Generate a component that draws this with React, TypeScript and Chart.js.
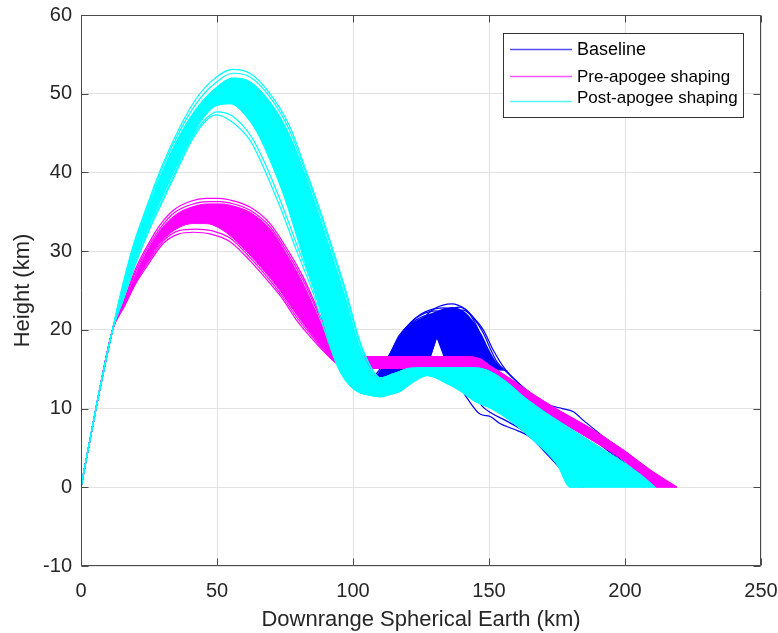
import React, { useEffect, useRef } from "react";
import { Chart, registerables } from "chart.js";

Chart.register(...registerables);

type P = [number, number];

// ---------- axes ----------
const X_TICKS = [0, 50, 100, 150, 200, 250];
const Y_TICKS = [-10, 0, 10, 20, 30, 40, 50, 60];
const SERIES = ["Baseline", "Pre-apogee shaping", "Post-apogee shaping"];

// ---------- shared launch segment (downrange km, height km) ----------
const ASCENT: P[] = [[0, 0], [5.5, 10], [11.6, 20]];

// ---------- Post-apogee shaping (cyan) ----------
const POST_UPPER_TAIL: P[] = [[110, 13.9], [114.8, 14.4], [121, 15.1], [130, 15.2], [140, 15.2], [146.7, 15.1], [152, 14.4], [157.7, 13], [162.6, 11.5], [171, 9.4], [180, 7.4], [190, 5.2], [200, 3], [206, 1.5], [211, 0]];
const POST_LOWER_TAIL: P[] = [[92.5, 17], [95.5, 14.6], [99, 12.9], [102.6, 12], [106.3, 11.7], [110, 11.5], [113.6, 11.8], [117.3, 12.2], [120.5, 13], [124, 13.8], [127.1, 14.2], [130, 14], [134, 13.3], [139.3, 12.3], [145, 10.9], [150.4, 10.1], [157.7, 8.5], [166.3, 6], [174.9, 3], [179.8, 0]];
const POST_BAND_TOP: P[] = [...ASCENT, [14.2, 23.8], [19.3, 30.4], [24.5, 35.4], [30.5, 40.6], [37, 45.2], [43, 48.4], [49, 50.6], [56, 52], [62.3, 51.5], [69.2, 49.1], [76.2, 45.1], [82.5, 39.6], [87.4, 34.7], [92.3, 29.5], [97.2, 24.1], [101.5, 18.8], [104.8, 16], [107.8, 14.3], ...POST_UPPER_TAIL];
const POST_BAND_BOTTOM: P[] = [...ASCENT, [15.2, 23.8], [20, 28.9], [25, 33.2], [30, 37], [35, 40.7], [40, 44.1], [45, 46.9], [50, 48.5], [55, 48.7], [60, 47.4], [65, 44.9], [70, 41.1], [75, 36.6], [80, 31.1], [85, 25.7], [89.5, 20.7], ...POST_LOWER_TAIL, [211, 0]];
const POST_RUN_1: P[] = [...ASCENT, [14, 23.8], [19, 30.5], [24.1, 35.6], [30, 41], [36.4, 45.8], [42, 49.2], [48, 51.6], [55.8, 53.1], [62.1, 52.6], [69.5, 50], [76.8, 45.8], [83, 40], [87.9, 35.2], [92.8, 30], [97.7, 24.6], [102, 19.1], [105, 16.4], [108, 14.5], ...POST_UPPER_TAIL];
const POST_RUN_2: P[] = [...ASCENT, [14.1, 23.8], [19.1, 30.4], [24.3, 35.5], [30.2, 40.8], [36.7, 45.5], [42.5, 48.8], [48.5, 51.1], [56, 52.6], [62.3, 52.1], [69.4, 49.6], [76.5, 45.5], [82.8, 39.8], [87.7, 35], [92.6, 29.8], [97.5, 24.4], [101.8, 19], [105, 16.2], [108, 14.4], ...POST_UPPER_TAIL];
const POST_RUN_3: P[] = [...ASCENT, [15.5, 23.8], [20, 28.3], [25, 32.6], [30, 36.3], [35, 40], [40, 43.6], [45, 46.2], [49.5, 47.3], [54.8, 46.6], [62.1, 44.1], [67, 40.7], [73.2, 35.6], [79.3, 30], [85.4, 24.6], [89.1, 20.4], ...POST_LOWER_TAIL];
const POST_RUN_4: P[] = [...ASCENT, [15.4, 23.8], [20, 28.5], [25, 32.9], [30, 36.6], [35, 40.3], [40, 43.9], [45, 46.5], [50, 47.7], [55.5, 47.2], [62.5, 44.6], [67.6, 41.2], [73.8, 36], [79.8, 30.4], [85.8, 25], [89.5, 20.8], ...POST_LOWER_TAIL];

// ---------- Pre-apogee shaping (magenta) ----------
const PRE_UPPER_TAIL: P[] = [[110, 16.6], [125, 16.6], [140, 16.6], [146.7, 16.3], [150.4, 15.4], [157.7, 13.8], [162.6, 12.6], [168.8, 11.2], [174.9, 9.9], [187.1, 7.5], [199.4, 4.7], [209.2, 2.2], [219, 0]];
const PRE_LOWER_TAIL: P[] = [[95, 15.5], [100, 15.1], [120, 15.1], [140, 15.1], [150, 14.6], [158.9, 12], [166, 10.2], [174.9, 8.6], [187, 6.2], [199, 3.6], [206, 1.6], [212, 0]];
const PRE_BAND_TOP: P[] = [...ASCENT, [16.1, 23.6], [20.4, 27.3], [24.5, 30.1], [29.5, 32.8], [34.7, 34.6], [40.7, 35.6], [46.7, 36], [51.3, 36], [55.2, 35.8], [62.3, 34.9], [69.5, 32.8], [76.5, 29.1], [81.3, 26.1], [85.6, 22.9], [89.6, 19.8], [93.1, 17.6], [97, 16.7], [101, 16.6], ...PRE_UPPER_TAIL];
const PRE_BAND_BOTTOM: P[] = [...ASCENT, [16.3, 23.4], [20, 25.9], [24.1, 28.5], [30, 31.4], [36, 33], [41, 33.5], [46, 33.5], [51, 32.9], [56, 31.6], [62.1, 29.5], [69.5, 26.6], [74, 24.6], [79.3, 21.9], [85.4, 19.2], [90.3, 17.1], ...PRE_LOWER_TAIL, [219, 0]];
const PRE_RUN_1: P[] = [...ASCENT, [15.9, 23.8], [20, 27.7], [24.1, 30.5], [29, 33.3], [34, 35.2], [40, 36.3], [46, 36.7], [51, 36.7], [54.8, 36.5], [62.1, 35.6], [69.5, 33.5], [76.8, 29.7], [81.7, 26.7], [86, 23.4], [90, 20.2], [93.5, 17.8], [97, 16.8], [101, 16.6], ...PRE_UPPER_TAIL];
const PRE_RUN_2: P[] = [...ASCENT, [16, 23.7], [20.2, 27.5], [24.3, 30.3], [29.3, 33], [34.4, 34.9], [40.4, 35.9], [46.4, 36.3], [51.2, 36.3], [55, 36.1], [62.2, 35.2], [69.5, 33.1], [76.6, 29.4], [81.5, 26.4], [85.8, 23.2], [89.8, 20], [93.3, 17.7], [97, 16.7], [101, 16.6], ...PRE_UPPER_TAIL];
const PRE_RUN_3: P[] = [...ASCENT, [16.1, 23.2], [20, 26], [24.1, 28.3], [30.3, 31.3], [36, 32.6], [42, 32.8], [48, 32.6], [55, 31.6], [62.1, 29.2], [69.5, 26.3], [74, 24.3], [79.3, 21.6], [85.4, 19], [90.3, 17], ...PRE_LOWER_TAIL];
const PRE_RUN_4: P[] = [...ASCENT, [16, 23], [20, 25.8], [24.1, 28], [30.3, 31], [36, 32.2], [41.3, 32.4], [47.4, 32.2], [54.8, 31.2], [62.1, 28.8], [69.5, 25.9], [74, 24], [79.3, 21.2], [85.4, 18.7], [90.3, 16.9], ...PRE_LOWER_TAIL];

// ---------- Baseline (blue) ----------
const BASE_ASCENT: P[] = [...ASCENT, [14.6, 23.8], [19.7, 29.8], [24.8, 34.5], [30.3, 38.9], [36, 43], [42, 46.6], [48, 49.1], [55, 50.3], [61, 49.6], [67, 46.6], [73, 41.7], [79, 35.3], [85, 28.8], [90, 22.6], [94.5, 17.8], [98.5, 14.5], [102.6, 13.1]];
const BASE_BUMP_TOP: P[] = [[106, 13.6], [109, 14.4], [111.5, 15.6], [114, 17.2], [117.5, 19.3], [121, 20.6], [124.5, 21.4], [128, 22], [131, 22.4], [134, 22.8], [136.5, 22.9], [139, 22.7], [142, 22], [145, 20.7], [147.5, 19.3], [150, 17.5], [152.5, 16], [155, 15.1], [157, 14.8]];
const BASE_BUMP_FLOOR: P[] = [[106, 13.6], [127, 15], [128.5, 16.4], [130.8, 18.9], [133.5, 16.4], [135, 15], [157, 14.8]];
const BASE_RUN_1: P[] = [...BASE_ASCENT, [106, 13.6], [109, 14.6], [111.5, 15.9], [113.6, 17], [117, 19.3], [120.5, 20.6], [124, 21], [127, 20.6], [129, 19.9], [130.8, 19.1], [132.3, 17.9], [133.8, 16.6], [135.5, 15.2], [138, 13.5], [142, 11.3], [146.7, 9.3], [150.4, 9], [154, 8.1], [159, 7.4], [165, 6.4], [171, 4.3], [176, 2.4], [181, 0]];
const BASE_RUN_2: P[] = [...BASE_ASCENT, [106, 13.6], [109, 14.2], [112, 15.6], [115, 17.6], [118.5, 19.8], [123.4, 21.3], [128.3, 21.9], [132.5, 21.4], [136, 19.6], [139, 17], [141.5, 14.6], [144, 12.3], [147.5, 10.3], [151, 9.4], [156, 8.5], [162, 7.3], [168, 5.6], [174, 3.5], [180, 1.3], [183, 0]];
const BASE_RUN_3: P[] = [...BASE_ASCENT, [106, 13.5], [110, 14.3], [113.5, 16.2], [117, 18.6], [121, 20.8], [125, 22], [129, 22.6], [133, 22.8], [137.5, 22.2], [141.5, 20.4], [144.5, 17.8], [147, 15], [149.5, 12.3], [152.5, 10.2], [157, 8.8], [163, 7.5], [169, 5.8], [175, 3.6], [181, 1.4], [185, 0]];
const BASE_RUN_4: P[] = [...BASE_ASCENT, [106, 13.5], [110, 14], [114, 15.3], [118, 17.3], [122, 19.6], [126, 21.5], [130, 22.7], [136.3, 23.3], [141, 22.7], [145, 21.3], [147.9, 20], [151.6, 17.4], [155.3, 15.3], [158, 14.2], [163, 12.5], [168, 11.2], [172.4, 10.4], [177, 10], [181, 9.6], [184.7, 8.5], [190, 7], [197, 5], [204, 2.6], [209, 0]];
const BASE_RUN_5: P[] = [...BASE_ASCENT, [106, 13.4], [112, 14.2], [118, 14.9], [122, 15.2], [126, 15.6], [128.3, 16.6], [130.8, 19.1], [133, 21.1], [136, 22.5], [139, 22.9], [142, 22.4], [145, 20.8], [148, 18.3], [151, 15.9], [154, 14.5], [160, 12.9], [166, 11.4], [172, 9.8], [180, 8], [188, 6.1], [196, 4], [203, 1.7], [207, 0]];
const BASE_RUN_6: P[] = [...BASE_ASCENT, [106, 13.4], [112, 14.1], [117, 15], [121, 16.4], [125, 18.5], [129, 20.5], [133, 21.8], [137, 22.4], [140.5, 22.5], [144, 21.6], [147.9, 19.6], [150.5, 17.6], [153, 15.9], [156, 14.8], [161, 13.2], [167, 11.5], [173, 9.8], [180, 8.2], [187, 6.5], [195, 4.5], [203, 2.2], [211, 0]];
const BASE_RUN_7: P[] = [...BASE_ASCENT, [106, 13.6], [109.5, 14.5], [112.5, 16.2], [116, 18.5], [120, 20.5], [125, 21.9], [131, 22.4], [135.5, 21.8], [139, 20], [142, 17.3], [144.5, 14.6], [147, 12.3], [150, 10.6], [154, 9.5], [160, 8], [166, 6.5], [172, 4.6], [178, 2.4], [184, 0]];

// ---------- styles ----------
const COLORS = ["#0000ff", "#ff00ff", "#00ffff"];
const LEGEND_COLORS = ["#4f4ff0", "#ff55ff", "#55f5f5"];
const FONT = '"Liberation Sans", Arial, Helvetica, sans-serif';
const TEXT = "#262626";

function ds(points: P[], color: string, order: number, extra: Record<string, unknown> = {}) {
  return {
    data: points.map(([x, y]) => ({ x, y })),
    borderColor: color,
    backgroundColor: color,
    borderWidth: 1.2,
    pointRadius: 0,
    fill: false,
    cubicInterpolationMode: "monotone",
    order,
    ...extra,
  };
}

const framePlugin = {
  id: "matlabFrame",
  afterDatasetsDraw(chart: any) {
    const { ctx, chartArea: a } = chart;
    const xs = chart.scales.x;
    const ys = chart.scales.y;
    const L = Math.round(a.left) + 0.5;
    const R = Math.round(a.right) - 0.5;
    const T = Math.round(a.top) + 0.5;
    const B = Math.round(a.bottom) - 0.5;
    const len = 7;
    ctx.save();
    ctx.strokeStyle = "#4a4a4a";
    ctx.lineWidth = 1;
    ctx.beginPath();
    ctx.rect(L, T, R - L, B - T);
    X_TICKS.forEach((v) => {
      const px = Math.round(xs.getPixelForValue(v)) + 0.5;
      ctx.moveTo(px, B);
      ctx.lineTo(px, B - len);
      ctx.moveTo(px, T);
      ctx.lineTo(px, T + len);
    });
    Y_TICKS.forEach((v) => {
      const py = Math.round(ys.getPixelForValue(v)) + 0.5;
      ctx.moveTo(L, py);
      ctx.lineTo(L + len, py);
      ctx.moveTo(R, py);
      ctx.lineTo(R - len, py);
    });
    ctx.stroke();
    ctx.restore();
  },
};

const legendPlugin = {
  id: "matlabLegend",
  afterDraw(chart: any) {
    const { ctx, chartArea: a } = chart;
    const bx = Math.round(a.right) - 258;
    const by = Math.round(a.top) + 18;
    const bw = 240;
    const bh = 84;
    ctx.save();
    ctx.fillStyle = "#ffffff";
    ctx.fillRect(bx, by, bw, bh);
    ctx.strokeStyle = "#333333";
    ctx.lineWidth = 1;
    ctx.strokeRect(bx + 0.5, by + 0.5, bw, bh);
    const lineY = [16.5, 43.5, 68.5];
    const textY = [17.5, 44, 65.5];
    const sizes = [18, 17, 17];
    SERIES.forEach((name, i) => {
      ctx.strokeStyle = LEGEND_COLORS[i];
      ctx.lineWidth = 1.5;
      ctx.beginPath();
      ctx.moveTo(bx + 7, by + lineY[i]);
      ctx.lineTo(bx + 69, by + lineY[i]);
      ctx.stroke();
      ctx.fillStyle = "#000000";
      ctx.font = `${sizes[i]}px ${FONT}`;
      ctx.textBaseline = "middle";
      ctx.textAlign = "left";
      ctx.fillText(name, bx + 74, by + textY[i]);
    });
    ctx.restore();
  },
};

export default function App() {
  const canvasRef = useRef<HTMLCanvasElement | null>(null);

  useEffect(() => {
    document.body.style.margin = "0";
    const canvas = canvasRef.current;
    if (!canvas) return;

    const datasets = [
      // Post-apogee shaping (on top)
      ds(POST_BAND_TOP, COLORS[2], 0.5, { fill: "+1", borderWidth: 1 }),
      ds(POST_BAND_BOTTOM, COLORS[2], 0.5, { borderWidth: 1 }),
      ds(POST_RUN_1, COLORS[2], 0),
      ds(POST_RUN_2, COLORS[2], 0),
      ds(POST_RUN_3, COLORS[2], 0),
      ds(POST_RUN_4, COLORS[2], 0),
      // Pre-apogee shaping
      ds(PRE_BAND_TOP, COLORS[1], 1.5, { fill: "+1", borderWidth: 1 }),
      ds(PRE_BAND_BOTTOM, COLORS[1], 1.5, { borderWidth: 1 }),
      ds(PRE_RUN_1, COLORS[1], 1),
      ds(PRE_RUN_2, COLORS[1], 1),
      ds(PRE_RUN_3, COLORS[1], 1),
      ds(PRE_RUN_4, COLORS[1], 1),
      // Baseline (bottom)
      ds(BASE_BUMP_TOP, COLORS[0], 2.5, { fill: "+1", borderWidth: 0 }),
      ds(BASE_BUMP_FLOOR, COLORS[0], 2.5, { borderWidth: 0, tension: 0, cubicInterpolationMode: "default" }),
      ds(BASE_RUN_1, COLORS[0], 2),
      ds(BASE_RUN_2, COLORS[0], 2),
      ds(BASE_RUN_3, COLORS[0], 2),
      ds(BASE_RUN_4, COLORS[0], 2),
      ds(BASE_RUN_5, COLORS[0], 2),
      ds(BASE_RUN_6, COLORS[0], 2),
      ds(BASE_RUN_7, COLORS[0], 2),
    ];

    const chart = new Chart(canvas, {
      type: "line",
      data: { datasets: datasets as any },
      options: {
        animation: false,
        responsive: false,
        devicePixelRatio: 1,
        events: [],
        layout: { padding: { left: 0, top: 15, right: 17, bottom: 0 } },
        plugins: {
          legend: { display: false },
          tooltip: { enabled: false },
        },
        scales: {
          x: {
            type: "linear",
            min: 0,
            max: 250,
            afterBuildTicks: (s: any) => {
              s.ticks = X_TICKS.map((v) => ({ value: v }));
            },
            afterFit: (s: any) => {
              s.height = 67;
              s.paddingLeft = 0;
              s.paddingRight = 0;
            },
            ticks: {
              autoSkip: false,
              maxRotation: 0,
              padding: 13,
              color: TEXT,
              font: { family: FONT, size: 20 },
            },
            grid: { color: "#e2e2e2", drawTicks: false, lineWidth: 1 },
            border: { display: false },
            title: {
              display: true,
              text: "Downrange Spherical Earth (km)",
              color: TEXT,
              font: { family: FONT, size: 22 },
              padding: { top: 0, bottom: 0 },
            },
          },
          y: {
            type: "linear",
            min: -10,
            max: 60,
            afterBuildTicks: (s: any) => {
              s.ticks = Y_TICKS.map((v) => ({ value: v }));
            },
            afterFit: (s: any) => {
              s.width = 81;
              s.paddingTop = 0;
              s.paddingBottom = 0;
            },
            ticks: {
              autoSkip: false,
              padding: 9,
              color: TEXT,
              font: { family: FONT, size: 20 },
            },
            grid: { color: "#e2e2e2", drawTicks: false, lineWidth: 1 },
            border: { display: false },
            title: {
              display: true,
              text: "Height (km)",
              color: TEXT,
              font: { family: FONT, size: 22 },
              padding: { top: 10, bottom: 0 },
            },
          },
        },
      } as any,
      plugins: [framePlugin, legendPlugin],
    });

    return () => chart.destroy();
  }, []);

  return (
    <div style={{ width: 778, height: 633, background: "#ffffff" }}>
      <canvas ref={canvasRef} width={778} height={633} style={{ display: "block" }} />
    </div>
  );
}
